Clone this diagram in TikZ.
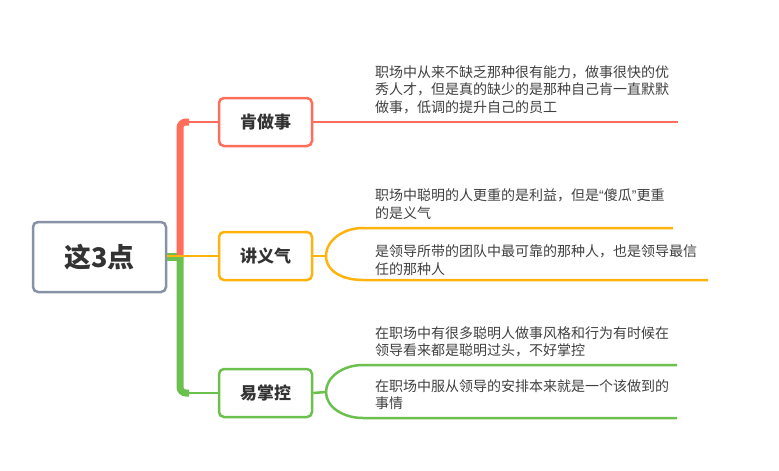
\documentclass[tikz,border=0pt]{standalone}
\usepackage{fontspec}
\setmainfont{Noto Sans CJK SC}
\newfontfamily\quotefont{Liberation Sans}
\usepackage{tikz}
\usetikzlibrary{positioning}
\usetikzlibrary{arrows.meta}

\definecolor{rootgray}{HTML}{8792A6}
\definecolor{redbr}{HTML}{FF6E5A}
\definecolor{yellowbr}{HTML}{FFB30F}
\definecolor{greenbr}{HTML}{6CC04D}
\definecolor{txt}{HTML}{333333}
\definecolor{notetxt}{HTML}{404040}

\begin{document}
\begin{tikzpicture}[x=1pt,y=-1pt]
            \useasboundingbox (0,0) rectangle (779,471);

            \begin{scope}[every node/.style={fill=white,rounded corners=5pt,line width=2.5pt,text=txt}]
                \node[draw=rootgray,minimum width=133pt,minimum height=70pt,
                    font=\fontsize{27}{30}\selectfont\bfseries] (root) at (99.5,257) {这3点};
                \node[draw=redbr,minimum width=93pt,minimum height=48pt,
                    font=\fontsize{17}{20}\selectfont\bfseries] (t1) at (265.5,122) {肯做事};
                \node[draw=yellowbr,minimum width=93pt,minimum height=48pt,
                    font=\fontsize{17}{20}\selectfont\bfseries] (t2) at (265.5,256) {讲义气};
                \node[draw=greenbr,minimum width=93pt,minimum height=48pt,
                    font=\fontsize{17}{20}\selectfont\bfseries] (t3) at (265.5,393) {易掌控};
            \end{scope};

            \begin{scope}[every node/.style={anchor=west,align=left,inner sep=0pt,
                text=notetxt,font=\fontsize{14}{17.5}\selectfont}]
                \node (n1) at (375,89.5) {职场中从来不缺乏那种很有能力，做事很快的优\\秀人才，但是真的缺少的是那种自己肯一直默默\\做事，低调的提升自己的员工};
                \node (n2) at (375,204) {职场中聪明的人更重的是利益，但是{\quotefont “}傻瓜{\quotefont ”}更重\\的是义气};
                \node (n3) at (375,260) {是领导所带的团队中最可靠的那种人，也是领导最信\\任的那种人};
                \node (n4) at (375,342) {在职场中有很多聪明人做事风格和行为有时候在\\领导看来都是聪明过头，不好掌控};
                \node (n5) at (375,394.5) {在职场中服从领导的安排本来就是一个该做到的\\事情};
            \end{scope};

            \coordinate (trunk) at (180,257);
            \coordinate (e1) at (678,122);
            \coordinate (fork2) at (326,256);
            \coordinate (e21) at (673,228);
            \coordinate (e22) at (708,280);
            \coordinate (fork3) at (326,392);
            \coordinate (e31) at (677,365);
            \coordinate (e32) at (677,418);

            % trunk
            \draw [greenbr,line width=8pt] (root.east) -- (trunk);
            \draw [redbr,line width=7pt,rounded corners=6pt] (trunk) -- (trunk |- t1) -- ++(9,0);
            \draw [greenbr,line width=7pt,rounded corners=6pt] (trunk) -- (trunk |- t3) -- ++(9,0);

            \begin{scope}[every edge/.style={draw,line width=2.5pt}]
                \path [-,redbr] (trunk |- t1) edge (t1.west);
                \path [-,redbr] (t1.east) edge (e1);
                \path [-,yellowbr] (root.east |- t2) edge (t2.west);
                \path [-,yellowbr] (t2.east) edge (fork2);
                \path [-,greenbr] (trunk |- t3) edge (t3.west);
                \path [-,greenbr] (t3.east) edge (fork3);
            \end{scope}

            % forks
            \draw [yellowbr,line width=2.5pt] (fork2) .. controls +(0,-15.5) and +(-20,0) .. (363,228) -- (e21);
            \draw [yellowbr,line width=2.5pt] (fork2) .. controls +(0,15.5) and +(-20,0) .. (363,280) -- (e22);
            \draw [greenbr,line width=2.5pt] (fork3) .. controls +(0,-15) and +(-20,0) .. (363,365) -- (e31);
            \draw [greenbr,line width=2.5pt] (fork3) .. controls +(0,15) and +(-20,0) .. (363,418) -- (e32);
        \end{tikzpicture}
\end{document}
